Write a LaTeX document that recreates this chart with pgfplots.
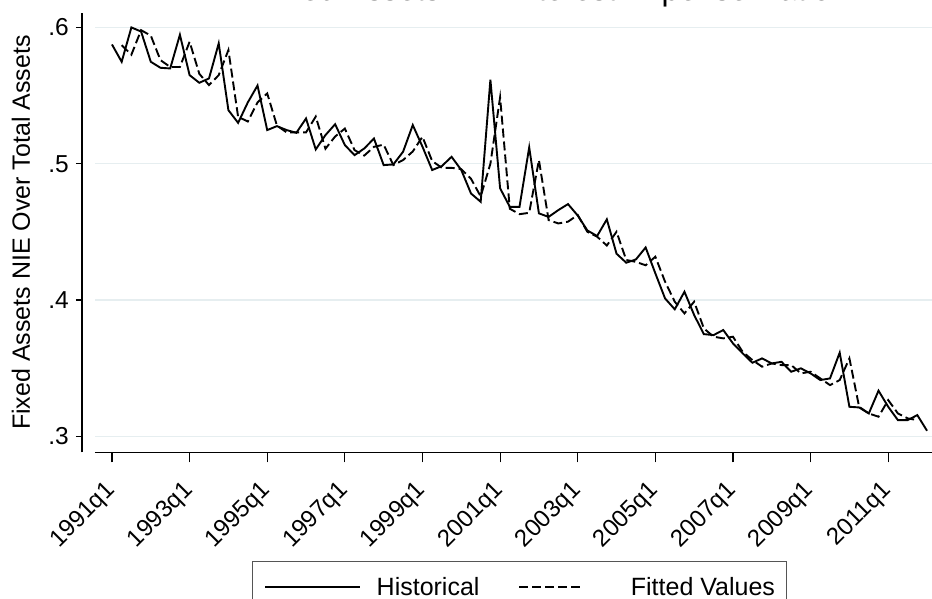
\documentclass[border=0pt]{standalone}
\usepackage{fontspec}
\setmainfont{Liberation Sans}
\usepackage{pgfplots}
\usepackage{pgfplotstable}
\pgfplotsset{compat=1.18}
\definecolor{gridc}{HTML}{E6EEF0}
\definecolor{legc}{HTML}{555555}
\pgfplotsset{
  solidkey/.style={legend image code/.code={\draw[##1] (0pt,0pt) -- (94.5pt,0pt);}},
  dashkey/.style={legend image code/.code={\draw[##1] (0pt,0pt) -- (64.6pt,0pt); \path (94.5pt,0pt);}},
}

% quarter index: 0 = 1991q1
\pgfplotstableread{
q val
0 0.5875
1 0.5748
2 0.6000
3 0.5970
4 0.5748
5 0.5704
6 0.5699
7 0.5946
8 0.5650
9 0.5594
10 0.5626
11 0.5883
12 0.5393
13 0.5300
14 0.5450
15 0.5574
16 0.5247
17 0.5276
18 0.5247
19 0.5227
20 0.5332
21 0.5105
22 0.5210
23 0.5290
24 0.5137
25 0.5063
26 0.5112
27 0.5185
28 0.4990
29 0.4995
30 0.5088
31 0.5284
32 0.5125
33 0.4954
34 0.4983
35 0.5051
36 0.4954
37 0.4782
38 0.4721
39 0.5617
40 0.4820
41 0.4684
42 0.4684
43 0.5120
44 0.4636
45 0.4610
46 0.4660
47 0.4704
48 0.4620
49 0.4510
50 0.4470
51 0.4592
52 0.4340
53 0.4274
54 0.4298
55 0.4386
56 0.4196
57 0.4012
58 0.3932
59 0.4061
60 0.3890
61 0.3750
62 0.3743
63 0.3780
64 0.3682
65 0.3609
66 0.3540
67 0.3572
68 0.3535
69 0.3547
70 0.3474
71 0.3499
72 0.3462
73 0.3413
74 0.3425
75 0.3614
76 0.3217
77 0.3212
78 0.3168
79 0.3335
80 0.3217
81 0.3119
82 0.3119
83 0.3156
84 0.3041
}\hist

\pgfplotstableread{
q val
1 0.5870
2 0.5800
3 0.5980
4 0.5940
5 0.5760
6 0.5710
7 0.5710
8 0.5895
9 0.5660
10 0.5577
11 0.5650
12 0.5834
13 0.5344
14 0.5310
15 0.5450
16 0.5516
17 0.5280
18 0.5230
19 0.5230
20 0.5230
21 0.5346
22 0.5110
23 0.5200
24 0.5258
25 0.5100
26 0.5060
27 0.5124
28 0.5140
29 0.4990
30 0.5027
31 0.5090
32 0.5198
33 0.5020
34 0.4970
35 0.4970
36 0.4960
37 0.4890
38 0.4760
39 0.5000
40 0.5487
41 0.4670
42 0.4630
43 0.4640
44 0.5027
45 0.4587
46 0.4562
47 0.4575
48 0.4624
49 0.4500
50 0.4465
51 0.4400
52 0.4501
53 0.4294
54 0.4280
55 0.4255
56 0.4318
57 0.4135
58 0.3988
59 0.3902
60 0.3988
61 0.3792
62 0.3731
63 0.3719
64 0.3731
65 0.3620
66 0.3560
67 0.3511
68 0.3535
69 0.3523
70 0.3523
71 0.3462
72 0.3474
73 0.3425
74 0.3376
75 0.3413
76 0.3572
77 0.3217
78 0.3168
79 0.3144
80 0.3266
81 0.3168
82 0.3132
83 0.3119
}\fitted

\begin{document}
\begin{tikzpicture}
% main plot: data, x axis, grid, legend
\begin{axis}[
  scale only axis, width=849pt, height=439.3pt,
  xmin=-1.75, xmax=85.75, ymin=0.2883, ymax=0.6106,
  axis x line*=bottom, axis y line*=left,
  x axis line style={line width=1.1pt, black},
  y axis line style={draw=none},
  ytick style={draw=none}, yticklabel=\empty,
  tick align=outside, major tick length=10pt,
  xtick style={black, line width=1.1pt},
  xtick={0,8,...,80},
  xticklabels={1991q1,1993q1,1995q1,1997q1,1999q1,2001q1,2003q1,2005q1,2007q1,2009q1,2011q1},
  ytick={0.3,0.4,0.5,0.6},
  ymajorgrids, grid style={gridc, line width=1.5pt},
  xticklabel style={font=\fontsize{24}{29}\selectfont, xshift=-8pt, yshift=-17pt,
    rotate=45, anchor=north east, inner sep=0pt},
  ylabel={Fixed Assets NIE Over Total Assets},
  every axis y label/.style={at={(axis description cs:0,0.5)}, xshift=-65pt,
    rotate=90, anchor=base, font=\fontsize{25}{30}\selectfont},
  legend columns=2,
  legend cell align=left,
  legend style={at={(axis description cs:0.1847,-0.2474)}, anchor=north west,
    draw=legc, line width=1pt, inner xsep=12pt, inner ysep=16pt,
    font=\fontsize{25}{30}\selectfont, nodes={inner sep=0pt},
    /tikz/every odd column/.style={column sep=16pt},
    /tikz/every even column/.style={column sep=39pt}},
]
\addplot[black, line width=1.9pt, solidkey] table[x=q, y=val] {\hist};
\addlegendentry{Historical}
\addplot[black, line width=1.9pt, dash pattern=on 9pt off 4pt, dashkey]
  table[x=q, y=val] {\fitted};
\addlegendentry{Fitted Values}
\end{axis}
% detached y axis, 13pt to the left of the plot region
\begin{axis}[
  at={(-13pt,0pt)}, anchor=south west,
  scale only axis, width=10pt, height=439.3pt,
  xmin=0, xmax=1, ymin=0.2883, ymax=0.6106,
  axis y line*=left, axis x line=none,
  y axis line style={line width=1.1pt, black},
  tick align=outside, major tick length=6pt,
  ytick style={black, line width=1.1pt},
  ytick={0.3,0.4,0.5,0.6}, yticklabels={.3,.4,.5,.6},
  yticklabel style={font=\fontsize{24.5}{29}\selectfont, anchor=east,
    inner sep=0pt, xshift=-7pt},
]
\end{axis}
\node[anchor=base, font=\fontsize{31.6}{38}\selectfont] at (450pt,451.5pt)
  {Fixed Assets NIE Interest Expense Ratio};
\pgfresetboundingbox
\useasboundingbox (-95pt,-146.7pt) rectangle (837pt,452.3pt);
\end{tikzpicture}
\end{document}
